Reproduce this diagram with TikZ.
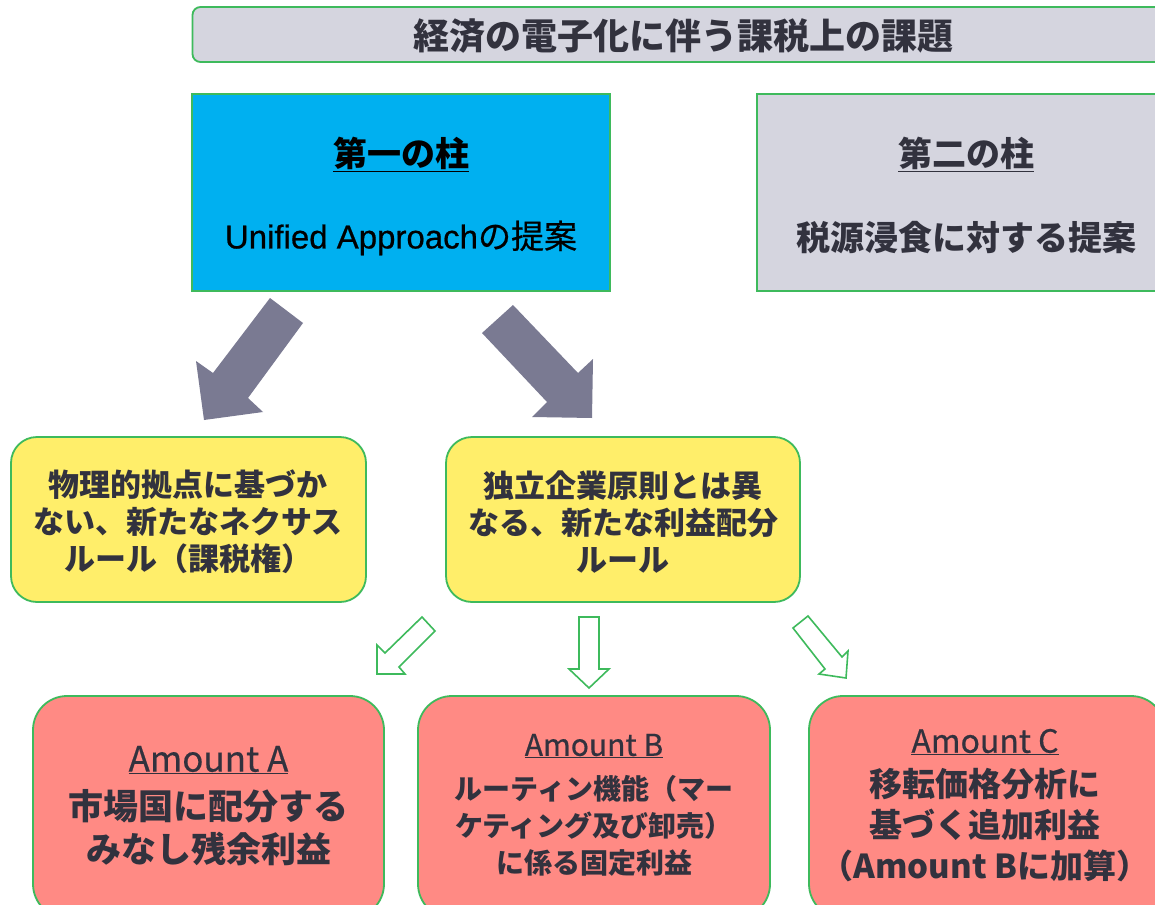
\documentclass[tikz,border=0pt]{standalone}
\usepackage{fontspec}
\setmainfont{Noto Sans CJK JP}
\newfontfamily\lat[FakeBold=0.6]{Liberation Sans}
\newfontfamily\amtfont[FakeBold=0.5]{Noto Sans CJK JP}
\definecolor{edgegreen}{RGB}{62,186,92}
\definecolor{boxgray}{RGB}{213,213,223}
\definecolor{boxcyan}{RGB}{0,176,240}
\definecolor{boxyellow}{RGB}{255,238,106}
\definecolor{boxred}{RGB}{255,138,132}
\definecolor{arrowgray}{RGB}{122,122,146}
\definecolor{ink}{RGB}{50,50,62}
\tikzset{
  panel/.style={draw=edgegreen, line width=1.8pt, inner sep=0pt},
  txt/.style={inner sep=0pt, align=center, text=ink},
  bigarrow/.style={fill=arrowgray, draw=none},
  openarrow/.style={draw=edgegreen, line width=1.6pt, fill=white, line join=miter},
}
\begin{document}
\begin{tikzpicture}[x=1pt,y=-1pt]
\useasboundingbox (0,0) rectangle (1155,904);
\clip (0,0) rectangle (1155,904);
\fill[white] (0,0) rectangle (1155,904);

% title
\node[panel, fill=boxgray, rounded corners=8pt, minimum width=985pt, minimum height=55pt] (title) at (685,34.5) {};
\node[txt, font=\fontsize{36}{40}\selectfont\bfseries] (titletxt) at (683,36) {経済の電子化に伴う課税上の課題};

% pillars
\node[panel, fill=boxcyan, minimum width=418pt, minimum height=197pt] (p1) at (401,192.5) {};
\node[txt, text=black, font=\fontsize{34}{40}\selectfont\bfseries] (p1h) at (401,154) {\underline{第一の柱}};
\node[txt, text=black, font=\fontsize{33}{40}\selectfont] (p1t) at (401,238) {{\lat Unified Approach}{\amtfont の提案}};

\node[panel, fill=boxgray, minimum width=420pt, minimum height=197pt] (p2) at (967,192.5) {};
\node[txt, font=\fontsize{34}{40}\selectfont\bfseries] (p2h) at (966,154) {\underline{第二の柱}};
\node[txt, font=\fontsize{34}{40}\selectfont\bfseries] (p2t) at (966,238) {税源浸食に対する提案};

% big arrows
\draw[bigarrow] (270,298) -- (303,323) -- (248,398) -- (263,412) -- (204,420) -- (196,361) -- (213,373) -- cycle;
\draw[bigarrow] (513,305) -- (578,373) -- (593,359) -- (592,418) -- (532,417) -- (547,402) -- (482,333) -- cycle;

% yellow boxes
\node[panel, fill=boxyellow, rounded corners=26pt, minimum width=355pt, minimum height=165pt] (y1) at (188.5,519.5) {};
\node[txt, font=\fontsize{31}{37}\selectfont\bfseries] (y1t) at (188,522) {物理的拠点に基づか\\ない、新たなネクサス\\ルール（課税権）};
\node[panel, fill=boxyellow, rounded corners=26pt, minimum width=354pt, minimum height=165pt] (y2) at (623,519.5) {};
\node[txt, font=\fontsize{31}{37}\selectfont\bfseries] (y2t) at (623,522) {独立企業原則とは異\\なる、新たな利益配分\\ルール};

% open arrows
\draw[openarrow] (422,617) -- (435,631) -- (399,667) -- (405,674) -- (377,674) -- (377,645) -- (385,653) -- cycle;
\draw[openarrow] (579,617) -- (599,617) -- (599,669) -- (609,669) -- (589,688) -- (569,669) -- (579,669) -- cycle;
\draw[openarrow] (808,616) -- (842,657) -- (848,651) -- (846,678) -- (819,674) -- (825,669) -- (793,628) -- cycle;

% red boxes
\node[panel, fill=boxred, rounded corners=34pt, minimum width=351pt, minimum height=222pt] (ra) at (208.5,807) {};
\node[txt, font=\fontsize{35}{40}\selectfont\amtfont] (rah) at (208.5,760) {\underline{Amount A}};
\node[txt, font=\fontsize{35}{43}\selectfont\bfseries] (rat) at (208.5,828) {市場国に配分する\\みなし残余利益};

\node[panel, fill=boxred, rounded corners=34pt, minimum width=352pt, minimum height=222pt] (rb) at (594,807) {};
\node[txt, font=\fontsize{30}{36}\selectfont\amtfont] (rbh) at (594,746) {\underline{Amount B}};
\node[txt, font=\fontsize{28}{37}\selectfont\bfseries] (rbt) at (594,826) {ルーティン機能（マー\\ケティング及び卸売）\\に係る固定利益};

\node[panel, fill=boxred, rounded corners=34pt, minimum width=356pt, minimum height=222pt] (rc) at (987,807) {};
\node[txt, font=\fontsize{32}{38}\selectfont\amtfont] (rch) at (985,742) {\underline{Amount C}};
\node[txt, font=\fontsize{33}{41}\selectfont\bfseries] (rct) at (985,825) {移転価格分析に\\基づく追加利益\\（Amount Bに加算）};
\end{tikzpicture}
\end{document}
